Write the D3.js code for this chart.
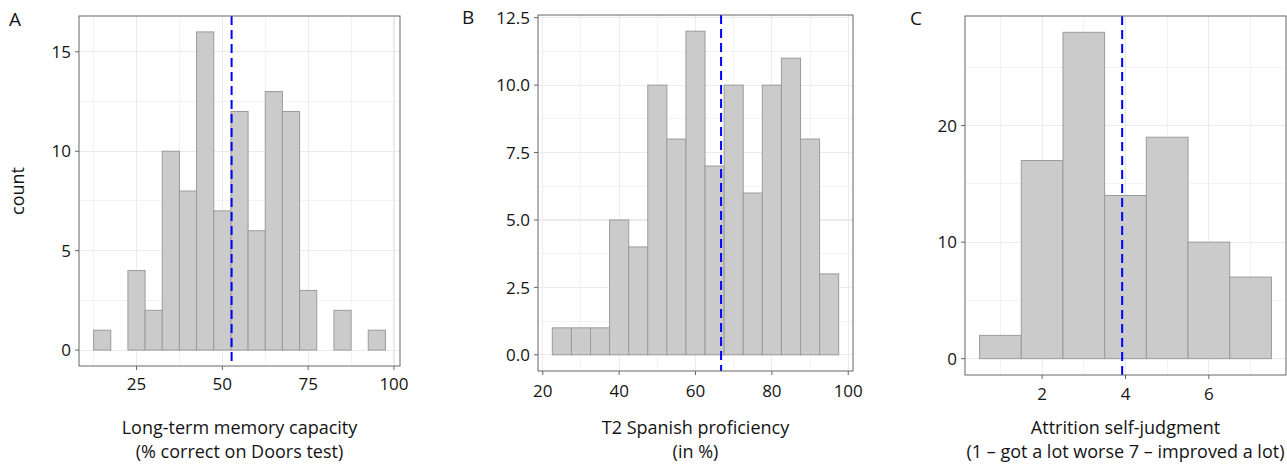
<!DOCTYPE html>
<html>
<head>
<meta charset="utf-8">
<script src="https://cdn.jsdelivr.net/npm/d3@7"></script>
<style>
  body { margin: 0; background: #fff; }
  svg text { font-family: "Open Sans", sans-serif; fill: #141414; }
</style>
</head>
<body>
<div id="chart"></div>
<script>
// Panel A: long-term memory capacity (bin width 5)
const memCenters = [15, 20, 25, 30, 35, 40, 45, 50, 55, 60, 65, 70, 75, 80, 85, 90, 95];
const memCounts = [1, 0, 4, 2, 10, 8, 16, 7, 12, 6, 13, 12, 3, 0, 2, 0, 1];
const memMean = 52.7;

// Panel B: T2 Spanish proficiency (bin width 5)
const spanCenters = [25, 30, 35, 40, 45, 50, 55, 60, 65, 70, 75, 80, 85, 90, 95];
const spanCounts = [1, 1, 1, 5, 4, 10, 8, 12, 7, 10, 6, 10, 11, 8, 3];
const spanMean = 66.7;

// Panel C: attrition self-judgment (bin width 1)
const attrCenters = [1, 2, 3, 4, 5, 6, 7];
const attrCounts = [2, 17, 28, 14, 19, 10, 7];
const attrMean = 3.92;

const panels = [
  {
    letter: 'A', centers: memCenters, counts: memCounts, mean: memMean, binWidth: 5,
    left: 79, right: 400, top: 16, bottom: 366,
    xTicks: [25, 50, 75, 100], xMinor: [12.5, 37.5, 62.5, 87.5],
    yTicks: [0, 5, 10, 15], yMinor: [2.5, 7.5, 12.5], yFormat: d3.format('d'),
    xLabelY: 390, letterX: 9, letterY: 26,
    title: ['Long-term memory capacity', '(% correct on Doors test)'],
    yTitle: true
  },
  {
    letter: 'B', centers: spanCenters, counts: spanCounts, mean: spanMean, binWidth: 5,
    left: 538, right: 853, top: 15, bottom: 371,
    xTicks: [20, 40, 60, 80, 100], xMinor: [30, 50, 70, 90],
    yTicks: [0, 2.5, 5, 7.5, 10, 12.5], yMinor: [1.25, 3.75, 6.25, 8.75, 11.25], yFormat: d3.format('.1f'),
    xLabelY: 397, letterX: 462, letterY: 24,
    title: ['T2 Spanish proficiency', '(in %)'],
    yTitle: false
  },
  {
    letter: 'C', centers: attrCenters, counts: attrCounts, mean: attrMean, binWidth: 1,
    left: 965, right: 1286, top: 16, bottom: 375,
    xTicks: [2, 4, 6], xMinor: [1, 3, 5, 7],
    yTicks: [0, 10, 20], yMinor: [5, 15, 25], yFormat: d3.format('d'),
    xLabelY: 400, letterX: 910, letterY: 25,
    title: ['Attrition self-judgment', '(1 \u2013 got a lot worse 7 \u2013 improved a lot)'],
    yTitle: false
  }
];

const svg = d3.select('#chart').append('svg')
  .attr('width', 1287)
  .attr('height', 466);

panels.forEach(p => {
  const bins = p.centers.map((c, i) => ({ x0: c - p.binWidth / 2, x1: c + p.binWidth / 2, n: p.counts[i] }));

  // ggplot style 5% expansion on both axes
  const xMin = d3.min(bins, d => d.x0);
  const xMax = d3.max(bins, d => d.x1);
  const xPad = (xMax - xMin) * 0.05;
  const yMax = d3.max(p.counts);
  const yPad = yMax * 0.05;

  const x = d3.scaleLinear().domain([xMin - xPad, xMax + xPad]).range([p.left, p.right]);
  const y = d3.scaleLinear().domain([-yPad, yMax + yPad]).range([p.bottom, p.top]);

  const g = svg.append('g');

  // gridlines
  const grid = g.append('g').attr('stroke', '#ebebeb').attr('shape-rendering', 'crispEdges');
  grid.selectAll('.xminor').data(p.xMinor).join('line')
    .attr('x1', d => x(d)).attr('x2', d => x(d))
    .attr('y1', p.top).attr('y2', p.bottom).attr('stroke-width', 0.6);
  grid.selectAll('.yminor').data(p.yMinor).join('line')
    .attr('x1', p.left).attr('x2', p.right)
    .attr('y1', d => y(d)).attr('y2', d => y(d)).attr('stroke-width', 0.6);
  grid.selectAll('.xmajor').data(p.xTicks).join('line')
    .attr('x1', d => x(d)).attr('x2', d => x(d))
    .attr('y1', p.top).attr('y2', p.bottom).attr('stroke-width', 1.1);
  grid.selectAll('.ymajor').data(p.yTicks).join('line')
    .attr('x1', p.left).attr('x2', p.right)
    .attr('y1', d => y(d)).attr('y2', d => y(d)).attr('stroke-width', 1.1);

  // bars
  g.selectAll('.bar')
    .data(bins.filter(d => d.n > 0))
    .join('rect')
      .attr('x', d => x(d.x0))
      .attr('width', d => x(d.x1) - x(d.x0))
      .attr('y', d => y(d.n))
      .attr('height', d => y(0) - y(d.n))
      .attr('fill', '#cbcbcb')
      .attr('stroke', '#9b9b9b')
      .attr('stroke-width', 1);

  // mean line
  g.append('line')
    .attr('x1', x(p.mean)).attr('x2', x(p.mean))
    .attr('y1', p.top).attr('y2', p.bottom)
    .attr('stroke', '#0000ff')
    .attr('stroke-width', 2)
    .attr('stroke-dasharray', '9,5');

  // panel border
  g.append('rect')
    .attr('x', p.left).attr('y', p.top)
    .attr('width', p.right - p.left).attr('height', p.bottom - p.top)
    .attr('fill', 'none').attr('stroke', '#666').attr('stroke-width', 1);

  // ticks and tick labels
  g.selectAll('.ytick').data(p.yTicks).join('line')
    .attr('x1', p.left - 4).attr('x2', p.left)
    .attr('y1', d => y(d)).attr('y2', d => y(d))
    .attr('stroke', '#666');
  g.selectAll('.ylab').data(p.yTicks).join('text')
    .attr('x', p.left - 8).attr('y', d => y(d))
    .attr('dy', '0.36em')
    .attr('text-anchor', 'end')
    .attr('font-size', 17)
    .text(d => p.yFormat(d));

  g.selectAll('.xtick').data(p.xTicks).join('line')
    .attr('x1', d => x(d)).attr('x2', d => x(d))
    .attr('y1', p.bottom).attr('y2', p.bottom + 4)
    .attr('stroke', '#666');
  g.selectAll('.xlab').data(p.xTicks).join('text')
    .attr('x', d => x(d)).attr('y', p.xLabelY)
    .attr('text-anchor', 'middle')
    .attr('font-size', 17)
    .text(d => d);

  // axis title
  g.selectAll('.xtitle').data(p.title).join('text')
    .attr('x', (p.left + p.right) / 2)
    .attr('y', (d, i) => 434 + i * 24)
    .attr('text-anchor', 'middle')
    .attr('font-size', 18)
    .text(d => d);

  if (p.yTitle) {
    g.append('text')
      .attr('transform', `translate(24, ${(p.top + p.bottom) / 2}) rotate(-90)`)
      .attr('text-anchor', 'middle')
      .attr('font-size', 18)
      .text('count');
  }

  // panel letter
  g.append('text')
    .attr('x', p.letterX).attr('y', p.letterY)
    .attr('font-size', 19)
    .text(p.letter);
});
</script>
</body>
</html>
